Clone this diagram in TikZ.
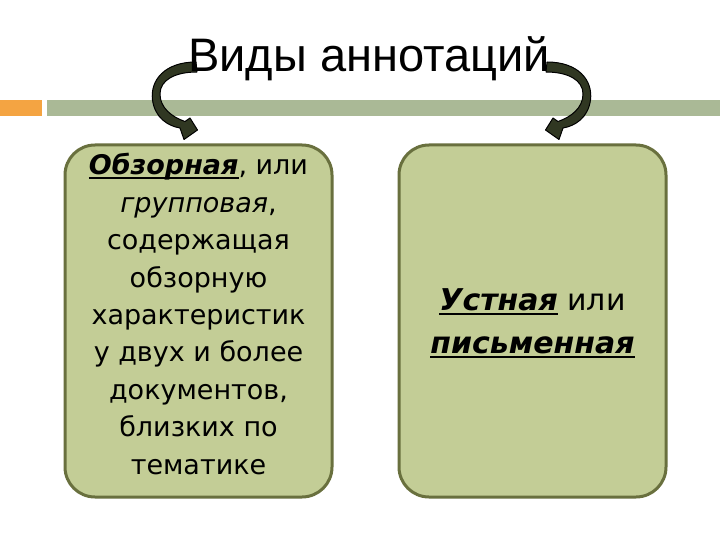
\documentclass[tikz,border=0pt]{standalone}
\usepackage{fontspec}
\setmainfont{DejaVu Sans}
\newfontfamily\titlefont{Liberation Sans}
\definecolor{boxfill}{RGB}{195,205,150}
\definecolor{boxline}{RGB}{105,112,62}
\definecolor{barorange}{RGB}{244,164,66}
\definecolor{bargreen}{RGB}{170,185,150}
\definecolor{arrowfill}{RGB}{48,55,34}
\newcommand{\ulword}[1]{\leavevmode\setbox0=\hbox{#1}\rlap{\rule[-4.5pt]{\wd0}{2pt}}\box0\relax}
\tikzset{
  annbox/.style={draw=boxline, line width=3pt, fill=boxfill, rounded corners=30pt,
    minimum width=267pt, minimum height=352pt},
  boxtext/.style={align=center, inner sep=0pt},
  curlarrow/.pic={
    \draw[fill=arrowfill, line width=1pt, line join=round]
      (196,62) .. controls (165,62) and (150,80) .. (152.5,100)
      .. controls (155,118) and (168,126) .. (180,128)
      -- (184,139.5) -- (197.5,130) -- (190,118) -- (185,121.5)
      .. controls (172,117) and (160,108) .. (160,94)
      .. controls (160,80) and (175,72) .. (197,72) -- cycle;
  }
}
\begin{document}
\begin{tikzpicture}[x=1pt,y=-1pt]
\useasboundingbox[fill=white] (0,0) rectangle (720,540);
% top bar
\fill[barorange] (0,100) rectangle (42,116);
\fill[bargreen] (47,100) rectangle (720,116);
% curved arrows
\pic at (0,0) {curlarrow};
\pic[xscale=-1] at (743,0) {curlarrow};
% title
\node[anchor=base, font=\titlefont\fontsize{47}{50}\selectfont, inner sep=0pt] (title) at (369,72) {Виды аннотаций};
% boxes
\node[annbox] (group) at (198.5,321) {};
\node[annbox] (oral) at (532.5,321) {};
\node[boxtext, font=\fontsize{27}{37.4}\selectfont] (grouptext) at (198.5,314)
  {\ulword{\textbf{\textit{Обзорная}}}, или\\ \textit{групповая},\\ содержащая\\ обзорную\\ характеристик\\ у двух и более\\ документов,\\ близких по\\ тематике};
\node[boxtext, font=\fontsize{30}{43}\selectfont] (oraltext) at (532.5,323)
  {\ulword{\textbf{\textit{Устная}}} или\\ \ulword{\textbf{\textit{письменная}}}};
\end{tikzpicture}
\end{document}
